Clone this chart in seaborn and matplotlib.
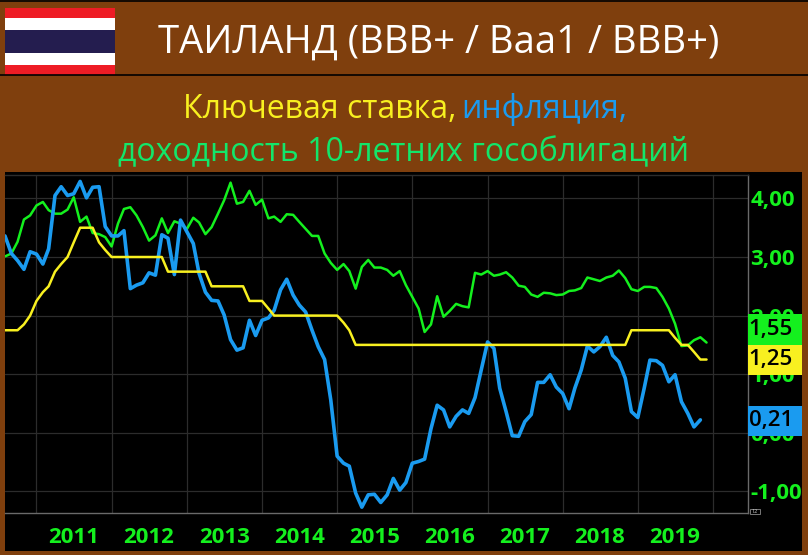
import pandas as pd
import matplotlib
matplotlib.use('Agg')
import matplotlib.pyplot as plt
from matplotlib.patches import Rectangle
import seaborn as sns

# ================================
# 1. DATA (monthly)
# ================================
rate = [1.75, 1.75, 1.75, 1.85, 2.00, 2.25, 2.40, 2.50, 2.75, 2.88, 3.00, 3.25, 3.50, 3.50, 3.50, 3.25,
        3.12, 3.00, 3.00, 3.00, 3.00, 3.00, 3.00, 3.00, 3.00, 3.00, 2.75, 2.75, 2.75, 2.75, 2.75, 2.75,
        2.75, 2.50, 2.50, 2.50, 2.50, 2.50, 2.50, 2.25, 2.25, 2.25, 2.12, 2.00, 2.00, 2.00, 2.00, 2.00,
        2.00, 2.00, 2.00, 2.00, 2.00, 2.00, 1.88, 1.75, 1.50, 1.50, 1.50, 1.50, 1.50, 1.50, 1.50, 1.50,
        1.50, 1.50, 1.50, 1.50, 1.50, 1.50, 1.50, 1.50, 1.50, 1.50, 1.50, 1.50, 1.50, 1.50, 1.50, 1.50,
        1.50, 1.50, 1.50, 1.50, 1.50, 1.50, 1.50, 1.50, 1.50, 1.50, 1.50, 1.50, 1.50, 1.50, 1.50, 1.50,
        1.50, 1.50, 1.50, 1.50, 1.75, 1.75, 1.75, 1.75, 1.75, 1.75, 1.75, 1.62, 1.50, 1.50, 1.38, 1.25,
        1.25]

bond_10y = [3.01, 3.06, 3.26, 3.64, 3.71, 3.88, 3.94, 3.80, 3.74, 3.74, 3.81, 4.02, 3.60, 3.69, 3.41, 3.39,
            3.34, 3.18, 3.57, 3.82, 3.85, 3.71, 3.51, 3.28, 3.37, 3.66, 3.41, 3.61, 3.57, 3.48, 3.67, 3.59,
            3.39, 3.51, 3.74, 3.97, 4.27, 3.91, 3.94, 4.13, 3.89, 3.98, 3.66, 3.69, 3.60, 3.73, 3.72, 3.60,
            3.48, 3.36, 3.36, 3.06, 2.90, 2.78, 2.88, 2.76, 2.46, 2.83, 2.95, 2.82, 2.82, 2.78, 2.68, 2.76,
            2.52, 2.32, 2.12, 1.72, 1.85, 2.33, 1.98, 2.08, 2.20, 2.16, 2.14, 2.73, 2.70, 2.76, 2.68, 2.70,
            2.74, 2.65, 2.51, 2.49, 2.36, 2.32, 2.39, 2.38, 2.35, 2.36, 2.42, 2.43, 2.47, 2.65, 2.62, 2.59,
            2.65, 2.68, 2.77, 2.64, 2.45, 2.42, 2.49, 2.49, 2.47, 2.32, 2.12, 1.86, 1.48, 1.49, 1.58, 1.63,
            1.54]

inflation = [3.36, 3.06, 2.94, 2.79, 3.09, 3.05, 2.88, 3.14, 4.05, 4.20, 4.05, 4.08, 4.29, 4.01, 4.19, 4.20,
             3.52, 3.36, 3.36, 3.45, 2.46, 2.52, 2.56, 2.73, 2.69, 3.38, 3.32, 2.70, 3.63, 3.43, 3.23, 2.72,
             2.40, 2.26, 2.25, 2.01, 1.59, 1.41, 1.45, 1.92, 1.66, 1.92, 1.96, 2.09, 2.44, 2.62, 2.35, 2.18,
             2.06, 1.75, 1.47, 1.25, 0.56, -0.40, -0.52, -0.57, -1.03, -1.27, -1.06, -1.05, -1.19, -1.06, -0.78, -0.98,
             -0.85, -0.52, -0.49, -0.45, 0.07, 0.47, 0.39, 0.10, 0.28, 0.39, 0.33, 0.60, 1.07, 1.55, 1.44, 0.76,
             0.36, -0.05, -0.06, 0.19, 0.31, 0.86, 0.86, 0.99, 0.78, 0.67, 0.41, 0.76, 1.07, 1.48, 1.38, 1.47,
             1.63, 1.32, 1.21, 0.93, 0.36, 0.26, 0.76, 1.24, 1.23, 1.15, 0.87, 0.99, 0.53, 0.33, 0.10, 0.22,
             None]

years = [2011, 2012, 2013, 2014, 2015, 2016, 2017, 2018, 2019]
y_ticks = [4, 3, 2, 1, 0, -1]
y_labels = ['4,00', '3,00', '2,00', '1,00', '0,00', '-1,00']

df = pd.DataFrame({
    'date': pd.date_range('2010-08-01', periods=len(rate), freq='MS'),
    'rate': rate,
    'bond': bond_10y,
    'cpi': pd.to_numeric(inflation),
})

# ================================
# 2. COLOURS & FIGURE
# ================================
BROWN = '#7f3f0d'
GREEN = '#14f01e'
YELLOW = '#f8f020'
BLUE = '#1a9bf0'
TEAL = '#12e66a'

W, H = 808, 555
sns.set_style('dark')
plt.rcParams['font.family'] = ['Open Sans', 'DejaVu Sans']

fig = plt.figure(figsize=(W / 100, H / 100), dpi=100, facecolor=BROWN)

bg = fig.add_axes([0, 0, 1, 1], zorder=0)
bg.set_xlim(0, W)
bg.set_ylim(H, 0)
bg.axis('off')
bg.add_patch(Rectangle((5, 172), 797, 379, color='black', lw=0))
bg.plot([0, W], [1, 1], color='black', lw=1.2)
bg.plot([0, W], [75, 75], color='black', lw=1.2)

# flag
for y0, y1, c in [(8, 18, '#ee1c25'), (18, 30, 'white'), (30, 53, '#241d4f'),
                  (53, 65, 'white'), (65, 75, '#ee1c25')]:
    bg.add_patch(Rectangle((5, y0), 110, y1 - y0, color=c, lw=0))

bg.text(439, 43, 'ТАИЛАНД (BBB+ / Baa1 / BBB+)', color='white', fontsize=27.5, ha='center', va='center')
bg.text(456, 109, 'Ключевая ставка,', color=YELLOW, fontsize=23, fontweight='medium', ha='right', va='center')
bg.text(461, 109, 'инфляция,', color=BLUE, fontsize=23, fontweight='medium', ha='left', va='center')
bg.text(403, 153, 'доходность 10-летних гособлигаций', color=TEAL, fontsize=23, fontweight='medium', ha='center', va='center')

# ================================
# 3. CHART
# ================================
left, right, top, bottom = 5, 747.7, 175, 513.3
ax = fig.add_axes([left / W, 1 - bottom / H, (right - left) / W, (bottom - top) / H], zorder=1)
ax.set_facecolor('black')

sns.lineplot(data=df, x='date', y='bond', color=GREEN, lw=1.8, ax=ax)
sns.lineplot(data=df, x='date', y='cpi', color=BLUE, lw=2.6, ax=ax)
sns.lineplot(data=df, x='date', y='rate', color=YELLOW, lw=1.8, ax=ax)

ax.set_xlim(pd.Timestamp('2010-08-01'), pd.Timestamp('2020-06-18'))
ax.set_ylim(-1.375, 4.4)
ax.set_xlabel('')
ax.set_ylabel('')

ax.set_xticks(pd.to_datetime([f'{y}-01-01' for y in years + [2020]]))
ax.set_xticklabels([])
ax.set_xticks(pd.to_datetime([f'{y}-07-01' for y in years]), minor=True)
ax.set_xticklabels([str(y) for y in years], minor=True, color=GREEN, fontsize=16, fontweight='bold')
ax.tick_params(axis='x', which='both', length=0)
ax.tick_params(axis='x', which='minor', pad=10)

ax.yaxis.tick_right()
ax.set_yticks(y_ticks)
ax.set_yticklabels(y_labels, color=GREEN, fontsize=16, fontweight='bold')
ax.tick_params(axis='y', length=0, pad=2)

ax.grid(True, which='major', color='#2c2c2c', lw=0.9)
ax.spines['left'].set_visible(False)
for side in ['top', 'right', 'bottom']:
    ax.spines[side].set_visible(True)
    ax.spines[side].set_color('#6a6a6a' if side != 'top' else '#2c2c2c')
    ax.spines[side].set_linewidth(1.0)

# ================================
# 4. LAST VALUE BOXES
# ================================
over = fig.add_axes([0, 0, 1, 1], zorder=2)
over.set_xlim(0, W)
over.set_ylim(H, 0)
over.axis('off')
for y0, c, label in [(314, GREEN, '1,55'), (344.5, YELLOW, '1,25'), (405.5, BLUE, '0,21')]:
    over.add_patch(Rectangle((747.5, y0), 54.5, 30.5, color=c, lw=0))
    over.text(748.5, y0 + 15, label, color='black', fontsize=16, fontweight='semibold', ha='left', va='center')

over.add_patch(Rectangle((750, 509), 10, 5, facecolor='black', edgecolor='#8a8a8a', lw=0.6))
over.text(755, 511.5, '12', color='#c8c8c8', fontsize=4, ha='center', va='center')

plt.savefig('out.png', dpi=100, facecolor=BROWN)
